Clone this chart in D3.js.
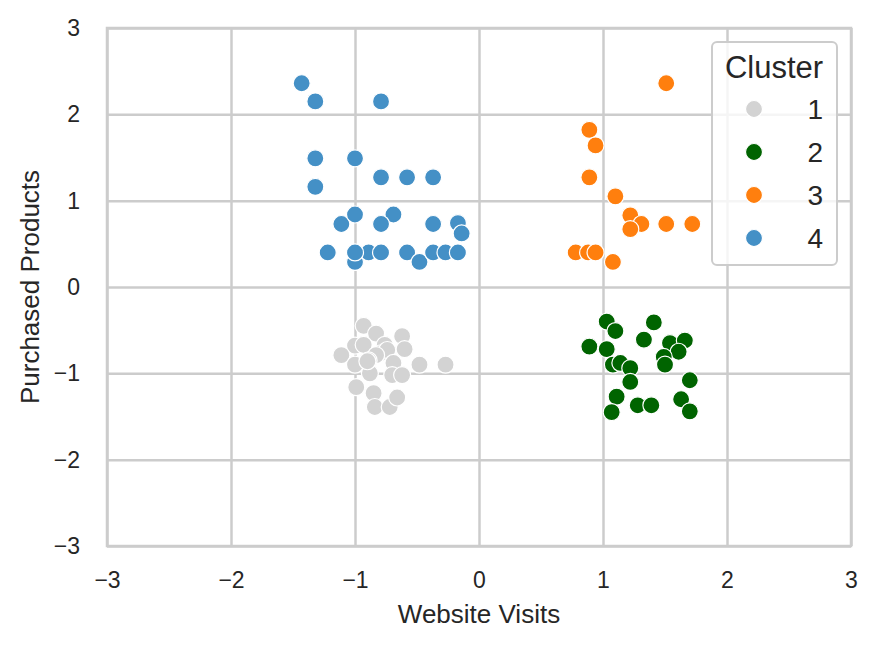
<!DOCTYPE html>
<html>
<head>
<meta charset="utf-8">
<script src="https://cdn.jsdelivr.net/npm/d3@7"></script>
<style>
    body { margin: 0; background: #fff; }
    text { font-family: Arial, "Liberation Sans", sans-serif; fill: #262626; }
</style>
</head>
<body>
<div id="chart"></div>
<script>
var clusterLabels = [1, 2, 3, 4];
var clusterColors = ['#d3d3d3', '#006400', '#ff7f0e', '#4490c6'];

var cluster1X = [-0.93, -0.83, -0.62, -1.0, -0.93, -0.76, -0.8, -0.6, -0.74, -0.83, -1.11, -0.89, -1.0, -0.88, -0.69, -0.7, -0.62, -0.48, -0.27, -0.99, -0.85, -0.84, -0.72, -0.66, -0.9];
var cluster1Y = [-0.45, -0.54, -0.57, -0.68, -0.67, -0.67, -0.77, -0.72, -0.73, -0.79, -0.79, -0.85, -0.9, -1.0, -0.88, -1.02, -1.02, -0.9, -0.9, -1.16, -1.23, -1.39, -1.39, -1.28, -0.86];

var cluster2X = [1.03, 1.1, 1.41, 1.33, 0.89, 1.03, 1.54, 1.66, 1.61, 1.49, 1.5, 1.08, 1.14, 1.22, 1.22, 1.7, 1.11, 1.07, 1.28, 1.39, 1.63, 1.7];
var cluster2Y = [-0.4, -0.51, -0.41, -0.61, -0.69, -0.72, -0.65, -0.62, -0.75, -0.81, -0.9, -0.9, -0.88, -0.94, -1.1, -1.08, -1.27, -1.45, -1.37, -1.37, -1.3, -1.44];

var cluster3X = [1.51, 0.89, 0.94, 0.89, 1.1, 1.22, 1.31, 1.22, 1.51, 1.72, 0.78, 0.88, 0.94, 1.08];
var cluster3Y = [2.36, 1.82, 1.64, 1.27, 1.05, 0.83, 0.73, 0.67, 0.73, 0.73, 0.4, 0.4, 0.4, 0.29];

var cluster4X = [-1.43, -1.32, -0.79, -1.32, -1.0, -0.79, -0.58, -0.37, -1.32, -0.69, -1.11, -0.79, -0.37, -0.17, -0.14, -1.22, -1.0, -0.89, -0.79, -0.58, -0.48, -0.37, -0.27, -0.17, -1.0, -1.0];
var cluster4Y = [2.36, 2.15, 2.15, 1.49, 1.49, 1.27, 1.27, 1.27, 1.16, 0.84, 0.73, 0.73, 0.73, 0.74, 0.62, 0.4, 0.29, 0.4, 0.4, 0.4, 0.29, 0.4, 0.4, 0.4, 0.84, 0.4];

var axisTicks = [-3, -2, -1, 0, 1, 2, 3];

var clusterXs = [cluster1X, cluster2X, cluster3X, cluster4X];
var clusterYs = [cluster1Y, cluster2Y, cluster3Y, cluster4Y];

var points = [];
clusterLabels.forEach((label, i) => {
    clusterXs[i].forEach((x, j) => {
        points.push({ cluster: label, x: x, y: clusterYs[i][j] });
    });
});

var margin = { top: 28, right: 25, bottom: 101, left: 107 };
var width = 876 - margin.left - margin.right;
var height = 647 - margin.top - margin.bottom;

var svg = d3
    .select('#chart')
    .append('svg')
    .attr('width', 876)
    .attr('height', 647);

var g = svg
    .append('g')
    .attr('transform', `translate(${margin.left},${margin.top})`);

var x = d3.scaleLinear().domain([-3, 3]).range([0, width]);
var y = d3.scaleLinear().domain([-3, 3]).range([height, 0]);
var color = d3.scaleOrdinal().domain(clusterLabels).range(clusterColors);

var fmt = d => d3.format('d')(d).replace('-', '\u2212');

// grid + tick labels
var xAxis = g
    .append('g')
    .attr('transform', `translate(0,${height})`)
    .call(d3.axisBottom(x).tickValues(axisTicks).tickFormat(fmt).tickSizeInner(-height).tickSizeOuter(0).tickPadding(26));

var yAxis = g
    .append('g')
    .call(d3.axisLeft(y).tickValues(axisTicks).tickFormat(fmt).tickSizeInner(-width).tickSizeOuter(0).tickPadding(27));

[xAxis, yAxis].forEach(ax => {
    ax.select('.domain').remove();
    ax.selectAll('line').attr('stroke', '#cccccc').attr('stroke-width', 2.5);
    ax.selectAll('text')
        .attr('fill', '#262626')
        .style('font-size', '23px')
        .style('font-family', 'Arial, "Liberation Sans", sans-serif');
});

g.append('rect')
    .attr('width', width)
    .attr('height', height)
    .attr('fill', 'none')
    .attr('stroke', '#cccccc')
    .attr('stroke-width', 2.5);

// points
g.append('g')
    .selectAll('circle')
    .data(points)
    .join('circle')
    .attr('cx', d => x(d.x))
    .attr('cy', d => y(d.y))
    .attr('r', 8.5)
    .attr('fill', d => color(d.cluster))
    .attr('stroke', '#fff')
    .attr('stroke-width', 1.2);

// axis labels
svg.append('text')
    .attr('x', margin.left + width / 2)
    .attr('y', 623)
    .attr('text-anchor', 'middle')
    .style('font-size', '26px')
    .text('Website Visits');

svg.append('text')
    .attr('transform', `translate(39,${margin.top + height / 2}) rotate(-90)`)
    .attr('text-anchor', 'middle')
    .style('font-size', '26px')
    .text('Purchased Products');

// legend
var legend = svg.append('g').attr('transform', 'translate(712,42)');

legend.append('rect')
    .attr('width', 125)
    .attr('height', 223)
    .attr('rx', 5)
    .attr('fill', '#fff')
    .attr('fill-opacity', 0.8)
    .attr('stroke', '#cccccc')
    .attr('stroke-width', 2);

legend.append('text')
    .attr('x', 62)
    .attr('y', 36)
    .attr('text-anchor', 'middle')
    .style('font-size', '31px')
    .text('Cluster');

var item = legend
    .selectAll('g.item')
    .data(clusterLabels)
    .join('g')
    .attr('class', 'item')
    .attr('transform', (d, i) => `translate(0,${67 + i * 43})`);

item.append('circle')
    .attr('cx', 42)
    .attr('r', 8.5)
    .attr('fill', d => color(d))
    .attr('stroke', '#fff')
    .attr('stroke-width', 1.2);

item.append('text')
    .attr('x', 111)
    .attr('dy', '0.36em')
    .attr('text-anchor', 'end')
    .style('font-size', '28px')
    .text(d => d);
</script>
</body>
</html>
